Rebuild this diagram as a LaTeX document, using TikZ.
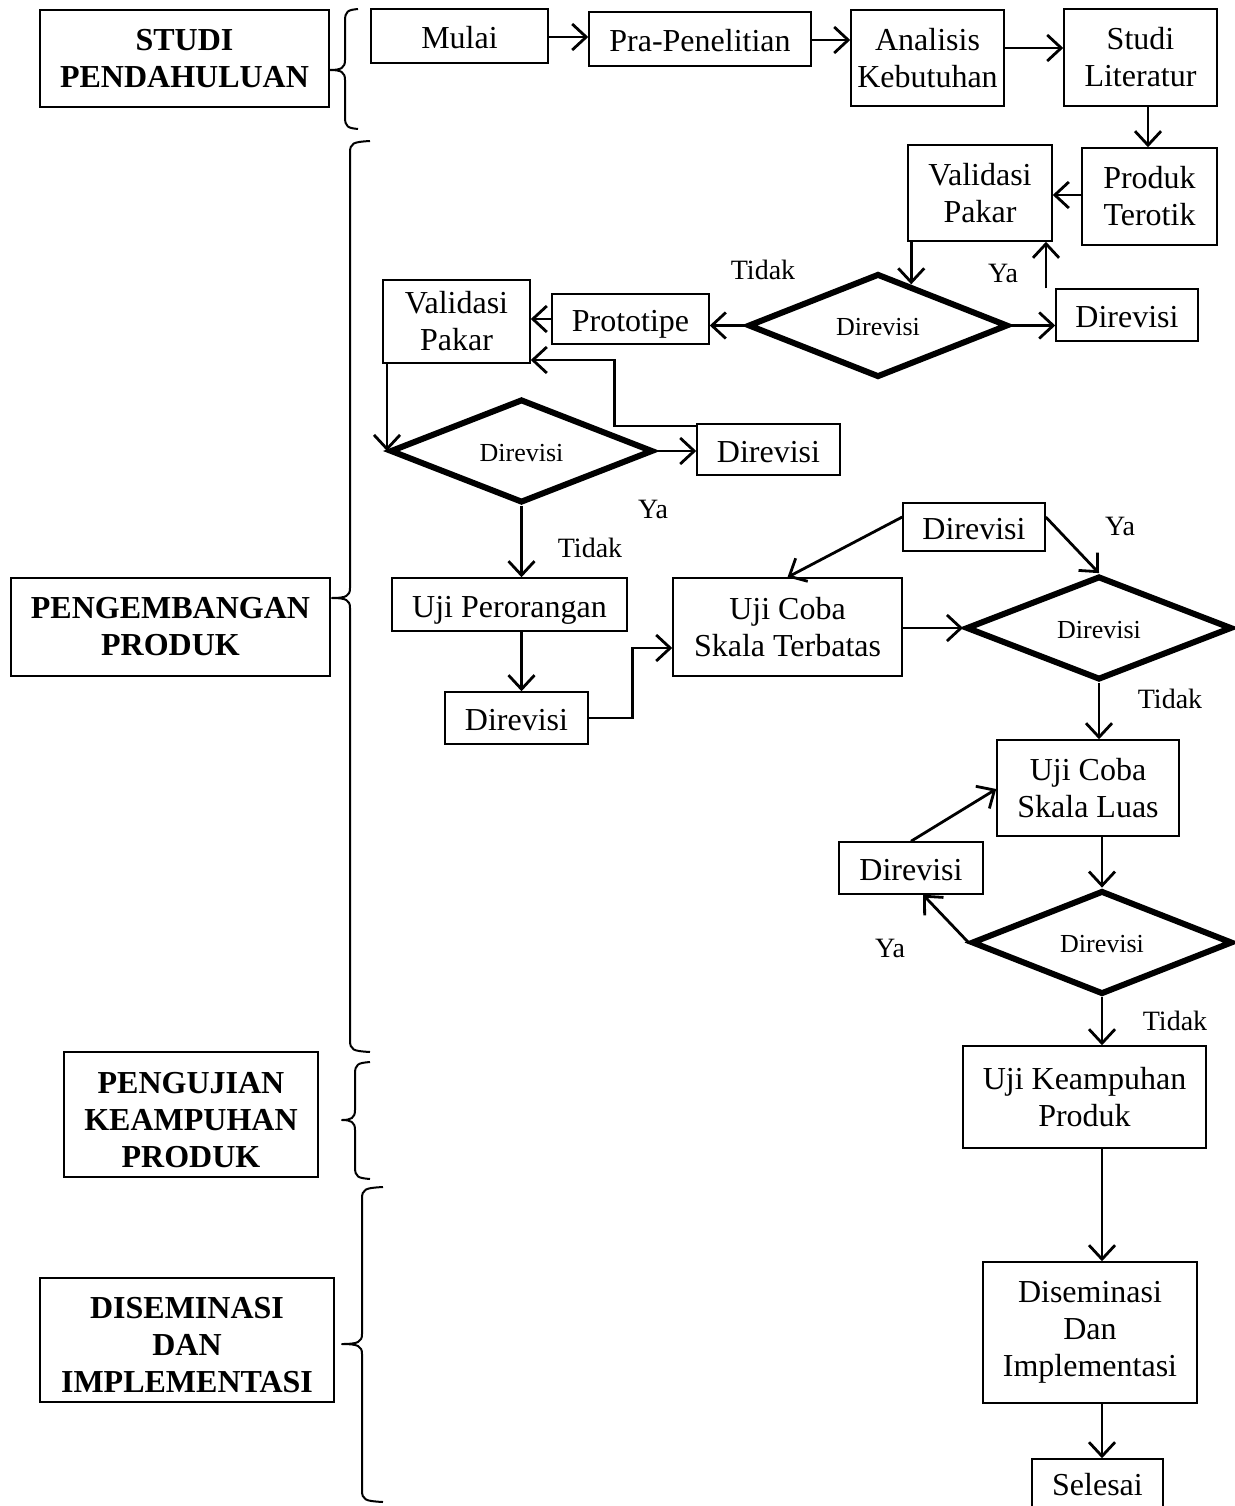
\documentclass[tikz,border=0pt]{standalone}
\usepackage{fontspec}
\setmainfont{Liberation Serif}
\usetikzlibrary{shapes.geometric,arrows.meta,calc}
\begin{document}
\begin{tikzpicture}[x=1pt,y=-1pt,
  box/.style={draw, line width=1.5pt, rectangle, align=center, inner sep=0pt,
    font=\fontsize{32}{37}\selectfont},
  one/.style={text height=25pt, text depth=0pt},
  lab/.style={draw, line width=1.5pt, rectangle, align=center, inner sep=0pt,
    font=\fontsize{32}{37}\selectfont\bfseries},
  low/.style={text height=105pt, text depth=0pt},
  dia/.style={draw, shape=diamond, line width=6pt, inner sep=0pt,
    text height=20pt, text depth=0pt,
    font=\fontsize{26}{30}\selectfont},
  arr/.style={-{Straight Barb[length=14pt,width=26pt]}, line width=2.8pt},
  yn/.style={font=\fontsize{28}{32}\selectfont, inner sep=0pt},
  brc/.style={line width=2pt, line join=round}]
\useasboundingbox (0,0) rectangle (1234,1506);

% left stage labels
\node[lab, minimum width=289pt, minimum height=97pt] (lab1) at (184.5,58.5) {STUDI\\PENDAHULUAN};
\node[lab, minimum width=319pt, minimum height=98pt] (lab2) at (170.5,627) {PENGEMBANGAN\\PRODUK};
\node[lab, low, minimum width=254pt, minimum height=125pt] (lab3) at (191,1114.5) {PENGUJIAN\\KEAMPUHAN\\PRODUK};
\node[lab, low, minimum width=294pt, minimum height=124pt] (lab4) at (187,1340) {DISEMINASI\\DAN\\IMPLEMENTASI};

% braces
\newcommand\mybrace[6]{%
  \draw[brc] (#6,#2-2) .. controls (#1+3,#2-1) and (#1,#2) .. (#1,#2+10)
    -- (#1,#5-10) .. controls (#1,#5-2) and (#1-4,#5) .. (#4,#5)
    .. controls (#1-4,#5) and (#1,#5+2) .. (#1,#5+10)
    -- (#1,#3-10) .. controls (#1,#3) and (#1+3,#3+1) .. (#6,#3+2);}
\mybrace{345}{11}{127}{330}{70}{358}
\mybrace{350}{143}{1050}{332}{598}{370}
\mybrace{355}{1064}{1177}{342}{1120}{370}
\mybrace{362}{1189}{1500}{342}{1344}{383}

% process boxes
\node[box, one, minimum width=177pt, minimum height=54pt] (mulai) at (459.5,36) {Mulai};
\node[box, one, minimum width=222pt, minimum height=54pt] (pra) at (700,39) {Pra-Penelitian};
\node[box, minimum width=153pt, minimum height=96pt] (anal) at (927.5,58) {Analisis\\Kebutuhan};
\node[box, minimum width=153pt, minimum height=97pt] (studi) at (1140.5,57.5) {Studi\\Literatur};
\node[box, minimum width=135pt, minimum height=97pt] (produk) at (1149.5,196.5) {Produk\\Terotik};
\node[box, minimum width=144pt, minimum height=96pt] (vp1) at (980,193) {Validasi\\Pakar};
\node[dia, minimum width=260pt, minimum height=99pt] (d1) at (878,325.5) {Direvisi};
\node[box, one, minimum width=142pt, minimum height=52pt] (dr1) at (1127,315) {Direvisi};
\node[box, one, minimum width=157pt, minimum height=50pt] (proto) at (630.5,319) {Prototipe};
\node[box, minimum width=147pt, minimum height=83pt] (vp2) at (456.5,321.5) {Validasi\\Pakar};
\node[dia, minimum width=263pt, minimum height=98pt] (d2) at (521.5,451) {Direvisi};
\node[box, one, minimum width=143pt, minimum height=51pt] (dr2) at (768.5,449.5) {Direvisi};
\node[box, one, minimum width=235pt, minimum height=53pt] (ujip) at (509.5,604.5) {Uji Perorangan};
\node[box, one, minimum width=143pt, minimum height=52pt] (dr3) at (516.5,718) {Direvisi};
\node[box, minimum width=229pt, minimum height=98pt] (ucst) at (787.5,627) {Uji Coba\\Skala Terbatas};
\node[dia, minimum width=266pt, minimum height=100pt] (d3) at (1099,628) {Direvisi};
\node[box, one, minimum width=142pt, minimum height=48pt] (dr4) at (974,527) {Direvisi};
\node[box, minimum width=182pt, minimum height=96pt] (ucsl) at (1088,788) {Uji Coba\\Skala Luas};
\node[dia, minimum width=261pt, minimum height=99pt] (d4) at (1102,942.5) {Direvisi};
\node[box, one, minimum width=144pt, minimum height=52pt] (dr5) at (911,868) {Direvisi};
\node[box, minimum width=243pt, minimum height=102pt] (ukp) at (1084.5,1097) {Uji Keampuhan\\Produk};
\node[box, minimum width=214pt, minimum height=141pt] (dis) at (1090,1332.5) {Diseminasi\\Dan\\Implementasi};
\node[box, one, minimum width=131pt, minimum height=48pt] (sel) at (1097.5,1483) {Selesai};

% yes / no labels
\node[yn] (t1) at (763,270) {Tidak};
\node[yn] (y1) at (1003,273) {Ya};
\node[yn] (y2) at (653,509) {Ya};
\node[yn] (t2) at (590,548) {Tidak};
\node[yn] (y3) at (1120,526) {Ya};
\node[yn] (t3) at (1170,699) {Tidak};
\node[yn] (y4) at (890,948) {Ya};
\node[yn] (t4) at (1175,1021) {Tidak};

% connectors
\draw[arr] (mulai.east |- 0,37) -- (pra.west |- 0,37);
\draw[arr] (pra.east |- 0,40) -- (anal.west |- 0,40);
\draw[arr] (anal.east |- 0,48) -- (studi.west |- 0,48);
\draw[arr] (1148,0 |- studi.south) -- (1148,0 |- produk.north);
\draw[arr] (produk.west |- 0,195) -- (vp1.east |- 0,195);
\coordinate (e1) at ($(d1.north)!0.25!(d1.east)$);
\draw[arr] (e1 |- vp1.south) -- (e1);
\draw[arr] (d1.east) -- (d1.east -| dr1.west);
\draw[arr] (1046,0 |- dr1.north) -- (1046,0 |- vp1.south);
\draw[arr] (d1.west) -- (d1.west -| proto.east);
\draw[arr] (proto.west) -- (proto.west -| vp2.east);
\draw[arr] (d2.west |- vp2.south) -- (d2.west);
\draw[arr] (d2.east) -- (d2.east -| dr2.west);
\draw[arr] (dr2.west |- 0,426) -- ++(-82,0) |- (vp2.east |- 0,360);
\draw[arr] (d2.south) -- (d2.south |- ujip.north);
\draw[arr] (d2.south |- ujip.south) -- (d2.south |- dr3.north);
\draw[arr] (dr3.east) -- ++(44,0) |- (ucst.west |- 0,648);
\draw[arr] (ucst.east |- d3.west) -- (d3.west);
\draw[arr] (dr4.west |- 0,517) -- (ucst.north);
\draw[arr] (dr4.east |- 0,517) -- (d3.north);
\draw[arr] (d3.south) -- (d3.south |- ucsl.north);
\draw[arr] (d4.north |- ucsl.south) -- (d4.north);
\draw[arr] (d4.west) -- ([xshift=12pt]dr5.south);
\draw[arr] (dr5.north) -- (ucsl.west |- 0,789);
\draw[arr] (d4.south) -- (d4.south |- ukp.north);
\draw[arr] (d4.south |- ukp.south) -- (d4.south |- dis.north);
\draw[arr] (d4.south |- dis.south) -- (d4.south |- sel.north);
\end{tikzpicture}
\end{document}
